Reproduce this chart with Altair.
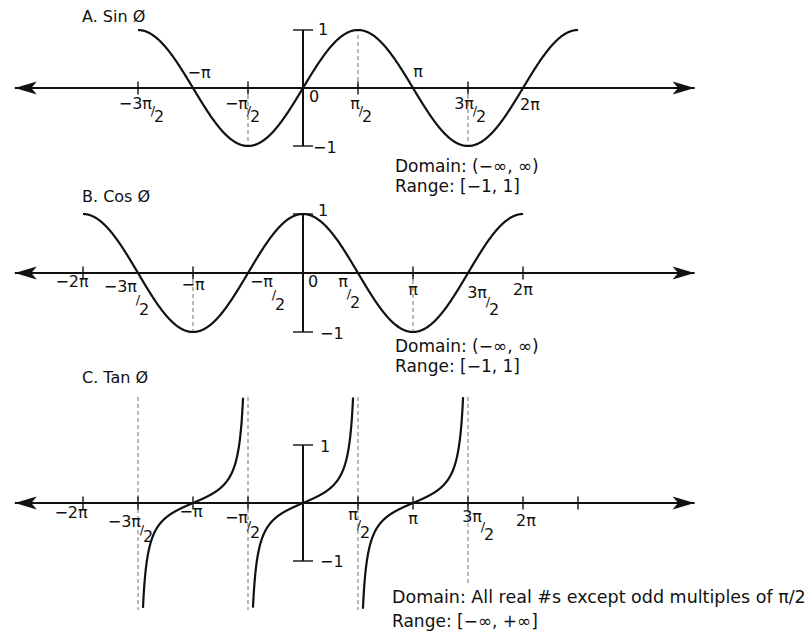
import altair as alt
import pandas as pd

PI = 3.141592653589793

# ---------------- values (angles in multiples of π) ----------------
axis_span = [-2.62, 3.56]

# A. Sin
sin_span = [-1.5, 2.5]
sin_ticks = [-1.5, -0.5, 0.5, 1.5]
sin_drops = [0.5, -0.5, 1.5]
sin_drop_to = [1, -1, -1]
sin_below = ["0", "2π"]
sin_below_at = [0, 2]
sin_above = ["−π", "π"]
sin_above_at = [-1, 1]
sin_fracs = ["−3π", "−π", "π", "3π"]
sin_fracs_at = [-1.5, -0.5, 0.5, 1.5]
sin_note = ["Domain: (−∞, ∞)", "Range: [−1, 1]"]

# B. Cos
cos_span = [-2, 2]
cos_ticks = [-2, -1, 1, 2]
cos_drops = [-1, 1]
cos_drop_to = [-1, -1]
cos_below = ["−2π", "−π", "0", "π", "2π"]
cos_below_at = [-2, -1, 0, 1, 2]
cos_fracs = ["−3π", "−π", "π", "3π"]
cos_fracs_at = [-1.5, -0.5, 0.5, 1.5]
cos_note = ["Domain: (−∞, ∞)", "Range: [−1, 1]"]

# C. Tan
tan_span = [-1.5, 1.5]          # three branches between the asymptotes
tan_limit = 7.07
tan_ticks = [-2, -1.5, -1, -0.5, 0.5, 1, 1.5, 2, 2.5]
tan_asymptotes = [-1.5, -0.5, 0.5, 1.5]
tan_asym_top = [7.07, 7.07, 7.07, 7.07]
tan_asym_bottom = [-7.13, -7.13, -7.13, -5.33]
tan_below = ["−2π", "−π", "π", "2π"]
tan_below_at = [-2, -1, 1, 2]
tan_fracs = ["−3π", "−π", "π", "3π"]
tan_fracs_at = [-1.5, -0.5, 0.5, 1.5]
tan_note = ["Domain: All real #s except odd multiples of π/2", "Range: [−∞, +∞]"]

unit_bar = [-1, 1]
titles = ["A. Sin Ø", "B. Cos Ø", "C. Tan Ø"]

# ---------------- styling / layout ----------------
FONT = "DejaVu Sans"
INK = "#111111"
GUIDE = "#8a8a8a"
LABEL_SIZE = 16
NOTE_SIZE = 17
W = 812
ZERO_PX = 303
PX_PER_PI = 110
X_DOM = [-ZERO_PX / PX_PER_PI * PI, (W - ZERO_PX) / PX_PER_PI * PI]

LEFT_HEAD = "M0,0 L2,-0.6 L1.5,0 L2,0.6 Z"
RIGHT_HEAD = "M0,0 L-2,-0.6 L-1.5,0 L-2,0.6 Z"

# label nudges in pixels (dx, dy) and (dx, dy, gap) for the fractions
sin_below_nudge = [(11, 9), (7, 17)]
sin_above_nudge = [(6, -15), (5, -16)]
sin_frac_nudge = [(14, 16, 13), (0, 16, 13), (2, 16, 13), (6, 16, 13)]
cos_below_nudge = [(-11, 9), (0, 12), (10, 9), (0, 17), (0, 17)]
cos_frac_nudge = [(-1, 14, 23), (25, 9, 23), (-10, 9, 21), (19, 20, 17)]
tan_below_nudge = [(-12, 10), (-2, 9), (0, 16), (3, 18)]
tan_frac_nudge = [(3, 19, 15), (0, 15, 15), (0, 12, 18), (14, 14, 18)]


def domain_for(height, axis_px, px_per_unit):
    return [-(height - axis_px) / px_per_unit, axis_px / px_per_unit]


def X():
    return alt.X("t:Q", scale=alt.Scale(domain=X_DOM, nice=False, zero=False), axis=None)


def Y(dom, field="v"):
    return alt.Y(f"{field}:Q", scale=alt.Scale(domain=dom, nice=False, zero=False), axis=None)


def label(t_pi, v, text, ydom, dx=0, dy=0, align="center", size=LABEL_SIZE):
    return alt.Chart(pd.DataFrame({"t": [t_pi * PI], "v": [v], "s": [text]})).mark_text(
        dx=dx, dy=dy, align=align, baseline="middle", font=FONT, fontSize=size, color=INK
    ).encode(x=X(), y=Y(ydom), text="s:N")


def axis_layers(ydom, ticks):
    line = alt.Chart(pd.DataFrame({"t": [a * PI for a in axis_span], "v": [0, 0]})).mark_line(
        color=INK, strokeWidth=2).encode(x=X(), y=Y(ydom))
    heads = []
    for a, shape in zip(axis_span, [LEFT_HEAD, RIGHT_HEAD]):
        heads.append(alt.Chart(pd.DataFrame({"t": [a * PI], "v": [0]})).mark_point(
            shape=shape, size=484, filled=True, color=INK, opacity=1, strokeWidth=0
        ).encode(x=X(), y=Y(ydom)))
    tk = alt.Chart(pd.DataFrame({"t": [k * PI for k in ticks], "v": [0] * len(ticks)})).mark_tick(
        orient="vertical", size=13, thickness=2, color=INK).encode(x=X(), y=Y(ydom))
    return [line, tk] + heads


def bar_layers(ydom, dy_top, dy_bot, dx_top, dx_bot):
    bar = alt.Chart(pd.DataFrame({"t": [0], "v": [unit_bar[0]], "v2": [unit_bar[1]]})).mark_rule(
        color=INK, strokeWidth=2).encode(x=X(), y=Y(ydom), y2="v2:Q")
    caps = alt.Chart(pd.DataFrame({"t": [0, 0], "v": unit_bar})).mark_tick(
        orient="horizontal", size=20, thickness=2, color=INK).encode(x=X(), y=Y(ydom))
    return [bar, caps,
            label(0, unit_bar[1], "1", ydom, dx=dx_top, dy=dy_top, align="left", size=16),
            label(0, unit_bar[0], "−1", ydom, dx=dx_bot, dy=dy_bot, align="left", size=16)]


def fraction(t_pi, num, ydom, dx, dy, gap):
    # numerator ending at dx, a slash, and the "2" dropped below to the right
    return [label(t_pi, 0, num, ydom, dx=dx, dy=dy, align="right"),
            label(t_pi, 0, "/", ydom, dx=dx + 1, dy=dy + gap * 0.55, size=13),
            label(t_pi, 0, "2", ydom, dx=dx + 2, dy=dy + gap, align="left")]


def note(px, py, text, size=NOTE_SIZE):
    return alt.Chart(pd.DataFrame({"s": [text]})).mark_text(
        align="left", baseline="middle", font=FONT, fontSize=size, color=INK
    ).encode(x=alt.value(px), y=alt.value(py), text="s:N")


def drops(ts, tos, ydom, dash_from=None):
    df = pd.DataFrame({"t": [k * PI for k in ts],
                       "v": dash_from if dash_from is not None else [0] * len(ts),
                       "v2": tos})
    return alt.Chart(df).mark_rule(color=GUIDE, strokeWidth=1.2, strokeDash=[4, 3]).encode(
        x=X(), y=Y(ydom), y2="v2:Q")


def texts(names, at, nudges, ydom):
    return [label(a, 0, n, ydom, dx=d[0], dy=d[1]) for n, a, d in zip(names, at, nudges)]


def fracs(names, at, nudges, ydom):
    out = []
    for n, a, d in zip(names, at, nudges):
        out += fraction(a, n, ydom, d[0], d[1], d[2])
    return out


# ---------------- A. Sin ----------------
HA, AXA = 190, 88
ya = domain_for(HA, AXA, 58)
sin_curve = alt.Chart(alt.sequence(sin_span[0] * PI, sin_span[1] * PI + 0.005, 0.01, as_="t")).transform_calculate(
    v="sin(datum.t)").mark_line(color=INK, strokeWidth=2.2).encode(x=X(), y=Y(ya))
panel_a = alt.layer(
    drops(sin_drops, sin_drop_to, ya),
    *axis_layers(ya, sin_ticks),
    *bar_layers(ya, 0, 2, 15, 10),
    sin_curve,
    *texts(sin_below, sin_below_at, sin_below_nudge, ya),
    *texts(sin_above, sin_above_at, sin_above_nudge, ya),
    *fracs(sin_fracs, sin_fracs_at, sin_frac_nudge, ya),
    note(82, 17, titles[0], size=16),
    note(395, 167, sin_note[0]),
    note(395, 187, sin_note[1]),
).properties(width=W, height=HA)

# ---------------- B. Cos ----------------
HB, AXB = 185, 83
yb = domain_for(HB, AXB, 59)
cos_curve = alt.Chart(alt.sequence(cos_span[0] * PI, cos_span[1] * PI + 0.005, 0.01, as_="t")).transform_calculate(
    v="cos(datum.t)").mark_line(color=INK, strokeWidth=2.2).encode(x=X(), y=Y(yb))
panel_b = alt.layer(
    drops(cos_drops, cos_drop_to, yb),
    *axis_layers(yb, cos_ticks),
    *bar_layers(yb, -3, 2, 15, 17),
    cos_curve,
    *texts(cos_below, cos_below_at, cos_below_nudge, yb),
    *fracs(cos_fracs, cos_fracs_at, cos_frac_nudge, yb),
    note(82, 7, titles[1], size=16),
    note(395, 157, cos_note[0]),
    note(395, 177, cos_note[1]),
).properties(width=W, height=HB)

# ---------------- C. Tan ----------------
HC, AXC = 266, 128
yc = domain_for(HC, AXC, 15)
yc_unit = domain_for(HC, AXC, 58)
tan_curve = alt.Chart(alt.sequence(tan_span[0] * PI, tan_span[1] * PI + 0.001, 0.002, as_="t")).transform_calculate(
    v="tan(datum.t)", b="round(datum.t / PI)"
).transform_filter(f"abs(datum.v) <= {tan_limit}").mark_line(color=INK, strokeWidth=2.2).encode(
    x=X(), y=Y(yc), detail="b:N")
panel_c = alt.layer(
    drops(tan_asymptotes, tan_asym_bottom, yc, dash_from=tan_asym_top),
    *axis_layers(yc, tan_ticks),
    *bar_layers(yc_unit, 2, 1, 17, 17),
    tan_curve,
    *texts(tan_below, tan_below_at, tan_below_nudge, yc),
    *fracs(tan_fracs, tan_fracs_at, tan_frac_nudge, yc),
    note(82, 3, titles[2], size=16),
    note(392, 223, tan_note[0], size=17.5),
    note(392, 247, tan_note[1]),
).properties(width=W, height=HC).resolve_scale(y="independent")

chart = alt.vconcat(panel_a, panel_b, panel_c, spacing=0, bounds="flush").properties(
    padding=0
).configure_view(strokeOpacity=0)

chart.save("out.html", embed_options={"renderer": "svg", "actions": False})
